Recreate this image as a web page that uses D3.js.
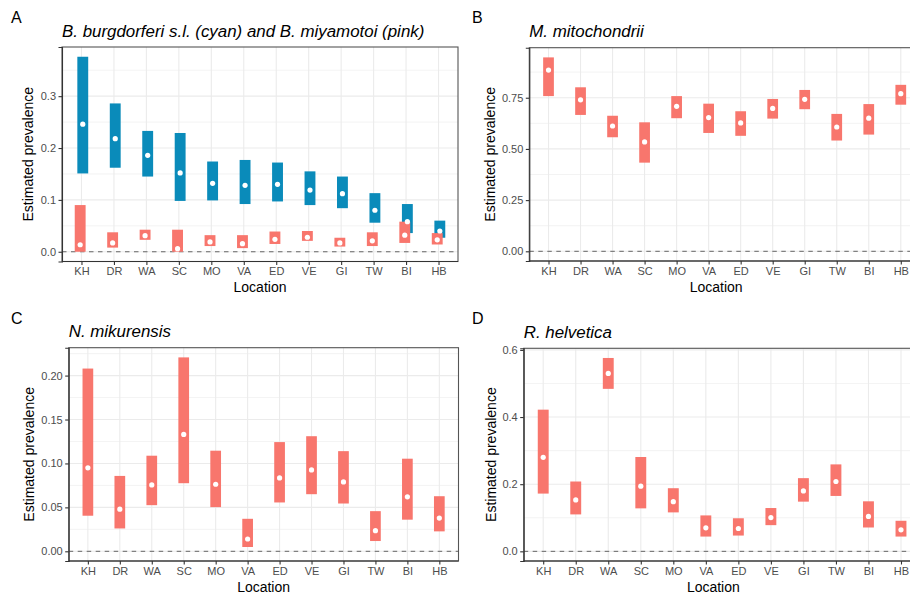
<!DOCTYPE html>
<html><head><meta charset="utf-8">
<script src="https://cdn.jsdelivr.net/npm/d3@7"></script>
<style>
body{margin:0;background:#fff;}
svg{display:block;font-family:"Liberation Sans",Arial,sans-serif;}
</style></head>
<body><svg id="chart" width="910" height="593"></svg>
<script>
// ---------- data ----------
const locations = ["KH","DR","WA","SC","MO","VA","ED","VE","GI","TW","BI","HB"];

// Panel A: B. burgdorferi s.l. (cyan)
const bbEst  = [0.246,0.218,0.186,0.152,0.132,0.128,0.130,0.119,0.112,0.080,0.058,0.040];
const bbLow  = [0.151,0.162,0.145,0.098,0.099,0.092,0.097,0.090,0.084,0.056,0.036,0.027];
const bbHigh = [0.376,0.286,0.233,0.229,0.174,0.177,0.172,0.155,0.145,0.113,0.092,0.060];
// Panel A: B. miyamotoi (pink)
const bmEst  = [0.0135,0.017,0.031,0.006,0.019,0.0155,0.024,0.028,0.017,0.021,0.032,0.023];
const bmLow  = [0.000,0.008,0.023,0.000,0.011,0.007,0.015,0.021,0.010,0.011,0.017,0.014];
const bmHigh = [0.090,0.0375,0.0425,0.0425,0.032,0.032,0.039,0.040,0.027,0.0375,0.058,0.036];

// Panel B: M. mitochondrii
const mmEst  = [0.885,0.740,0.612,0.534,0.708,0.653,0.627,0.698,0.742,0.607,0.650,0.770];
const mmLow  = [0.758,0.666,0.557,0.433,0.650,0.578,0.564,0.648,0.694,0.541,0.570,0.716];
const mmHigh = [0.947,0.801,0.662,0.630,0.758,0.721,0.684,0.744,0.788,0.671,0.719,0.813];

// Panel C: N. mikurensis
const nmEst  = [0.095,0.048,0.0756,0.133,0.0763,0.014,0.0835,0.0926,0.079,0.0235,0.062,0.0378];
const nmLow  = [0.0405,0.026,0.0525,0.0775,0.0503,0.0049,0.0556,0.065,0.0544,0.0117,0.036,0.0227];
const nmHigh = [0.208,0.0858,0.1088,0.2207,0.1145,0.037,0.1243,0.131,0.114,0.0457,0.1054,0.0627];

// Panel D: R. helvetica
const rhEst  = [0.280,0.153,0.530,0.194,0.148,0.070,0.068,0.1006,0.180,0.208,0.104,0.064];
const rhLow  = [0.172,0.110,0.484,0.128,0.116,0.044,0.047,0.078,0.148,0.165,0.071,0.044];
const rhHigh = [0.422,0.208,0.576,0.281,0.188,0.107,0.0985,0.129,0.218,0.259,0.149,0.091];

// tick values
const ticksA = [0, 0.1, 0.2, 0.3];
const ticksB = [0, 0.25, 0.5, 0.75];
const ticksC = [0, 0.05, 0.1, 0.15, 0.2];
const ticksD = [0, 0.2, 0.4, 0.6];

const titles = ["B. burgdorferi s.l. (cyan) and B. miyamotoi (pink)", "M. mitochondrii", "N. mikurensis", "R. helvetica"];
const panelLetters = ["A","B","C","D"];

// ---------- style ----------
const CYAN = "#0a8bba";
const PINK = "#f8766d";

const svg = d3.select("#chart");

function makeSeries(est, low, high, color, shift) {
  return locations.map((loc, i) => ({loc, est: est[i], low: low[i], high: high[i], color, shift}));
}

const panels = [
  {letter: panelLetters[0], title: titles[0], box: {l: 62, r: 458, t: 47, b: 261.5},
   ticks: ticksA, fmt: d3.format(".1f"),
   series: [makeSeries(bbEst,bbLow,bbHigh,CYAN, 0.04), makeSeries(bmEst,bmLow,bmHigh,PINK,-0.04)],
   letterPos: [11, 23], yTitleX: 28},
  {letter: panelLetters[1], title: titles[1], box: {l: 529.3, r: 920, t: 47.7, b: 261},
   ticks: ticksB, fmt: d3.format(".2f"),
   series: [makeSeries(mmEst,mmLow,mmHigh,PINK,0)],
   letterPos: [472, 23], yTitleX: 490},
  {letter: panelLetters[2], title: titles[2], box: {l: 68.7, r: 458.5, t: 347.7, b: 561},
   ticks: ticksC, fmt: d3.format(".2f"),
   series: [makeSeries(nmEst,nmLow,nmHigh,PINK,0)],
   letterPos: [11, 323.5], yTitleX: 28.5},
  {letter: panelLetters[3], title: titles[3], box: {l: 523.7, r: 920.5, t: 348.3, b: 561},
   ticks: ticksD, fmt: d3.format(".1f"),
   series: [makeSeries(rhEst,rhLow,rhHigh,PINK,0)],
   letterPos: [472, 323.5], yTitleX: 490.5}
];

panels.forEach(p => {
  const {l, r, t, b} = p.box;
  const g = svg.append("g");

  const x = d3.scalePoint().domain(locations).range([l, r]).padding(0.6);
  const step = x.step();

  const all = p.series.flat();
  const lo = Math.min(0, d3.min(all, d => d.low));
  const hi = d3.max(all, d => d.high);
  const pad = (hi - lo) * 0.05;
  const y = d3.scaleLinear().domain([lo - pad, hi + pad]).range([b, t]);

  // clip
  const clipId = "clip" + p.letter;
  svg.append("clipPath").attr("id", clipId).append("rect")
    .attr("x", l).attr("y", t).attr("width", r - l).attr("height", b - t);
  const plot = g.append("g").attr("clip-path", `url(#${clipId})`);

  // minor gridlines
  const tk = p.ticks;
  const dt = tk[1] - tk[0];
  const minor = [];
  for (let v = tk[0] - dt / 2; v <= y.domain()[1]; v += dt) {
    if (v >= y.domain()[0]) minor.push(v);
  }
  plot.selectAll(".minor").data(minor).join("line")
    .attr("x1", l).attr("x2", r).attr("y1", d => y(d)).attr("y2", d => y(d))
    .attr("stroke", "#ebebeb").attr("stroke-width", 0.6);
  // major gridlines
  plot.selectAll(".majorY").data(tk).join("line")
    .attr("x1", l).attr("x2", r).attr("y1", d => y(d)).attr("y2", d => y(d))
    .attr("stroke", "#ebebeb").attr("stroke-width", 1.1);
  plot.selectAll(".majorX").data(locations).join("line")
    .attr("x1", d => x(d)).attr("x2", d => x(d)).attr("y1", t).attr("y2", b)
    .attr("stroke", "#ebebeb").attr("stroke-width", 1.1);

  // dashed zero line
  plot.append("line").attr("x1", l).attr("x2", r).attr("y1", y(0)).attr("y2", y(0))
    .attr("stroke", "#666").attr("stroke-width", 1).attr("stroke-dasharray", "4.5,4.5");

  const bw = step * 0.335;
  // bars
  p.series.forEach(s => {
    plot.append("g").selectAll("rect").data(s).join("rect")
      .attr("x", d => x(d.loc) + d.shift * step - bw / 2)
      .attr("width", bw)
      .attr("y", d => y(d.high))
      .attr("height", d => y(d.low) - y(d.high))
      .attr("fill", d => d.color);
  });
  // points
  p.series.forEach(s => {
    plot.append("g").selectAll("circle").data(s).join("circle")
      .attr("cx", d => x(d.loc) + d.shift * step)
      .attr("cy", d => y(d.est))
      .attr("r", 2.6)
      .attr("fill", "#fff");
  });

  // border
  g.append("rect").attr("x", l).attr("y", t).attr("width", r - l).attr("height", b - t)
    .attr("fill", "none").attr("stroke", "#555").attr("stroke-width", 1.1);

  // y axis
  const yAxis = d3.axisLeft(y).tickValues(tk).tickFormat(p.fmt).tickSize(3.5).tickPadding(2.5);
  const ya = g.append("g").attr("transform", `translate(${l},0)`).call(yAxis);
  ya.select(".domain").attr("stroke", "#333").attr("stroke-width", 1.1);
  ya.selectAll(".tick line").attr("stroke", "#333").attr("stroke-width", 1.1);
  ya.selectAll(".tick text").attr("fill", "#4d4d4d").style("font-size", "11px")
    .style("font-family", '"Liberation Sans",Arial,sans-serif');

  // x axis
  const xAxis = d3.axisBottom(x).tickSize(3.5).tickPadding(2.5);
  const xa = g.append("g").attr("transform", `translate(0,${b})`).call(xAxis);
  xa.select(".domain").attr("stroke", "#333").attr("stroke-width", 1.1)
    .attr("d", `M${l},0H${r}`);
  xa.selectAll(".tick line").attr("stroke", "#333").attr("stroke-width", 1.1);
  xa.selectAll(".tick text").attr("fill", "#4d4d4d").style("font-size", "11px")
    .style("font-family", '"Liberation Sans",Arial,sans-serif');

  // axis titles
  g.append("text").attr("x", (l + Math.min(r, 905)) / 2 + (r > 910 ? -1 : 0)).attr("y", b + 30.5)
    .attr("text-anchor", "middle").style("font-size", "14px").attr("fill", "#000")
    .text("Location");
  g.append("text")
    .attr("transform", `translate(${p.yTitleX + 5},${(t + b) / 2}) rotate(-90)`)
    .attr("text-anchor", "middle").style("font-size", "14px").attr("fill", "#000")
    .text("Estimated prevalence");

  // plot title
  g.append("text").attr("x", l).attr("y", t - 10.3)
    .style("font-size", "16.9px").style("font-style", "italic").attr("fill", "#000")
    .text(p.title);

  // panel letter
  g.append("text").attr("x", p.letterPos[0]).attr("y", p.letterPos[1])
    .style("font-size", "16px").attr("fill", "#000").text(p.letter);
});
</script>
</body></html>
